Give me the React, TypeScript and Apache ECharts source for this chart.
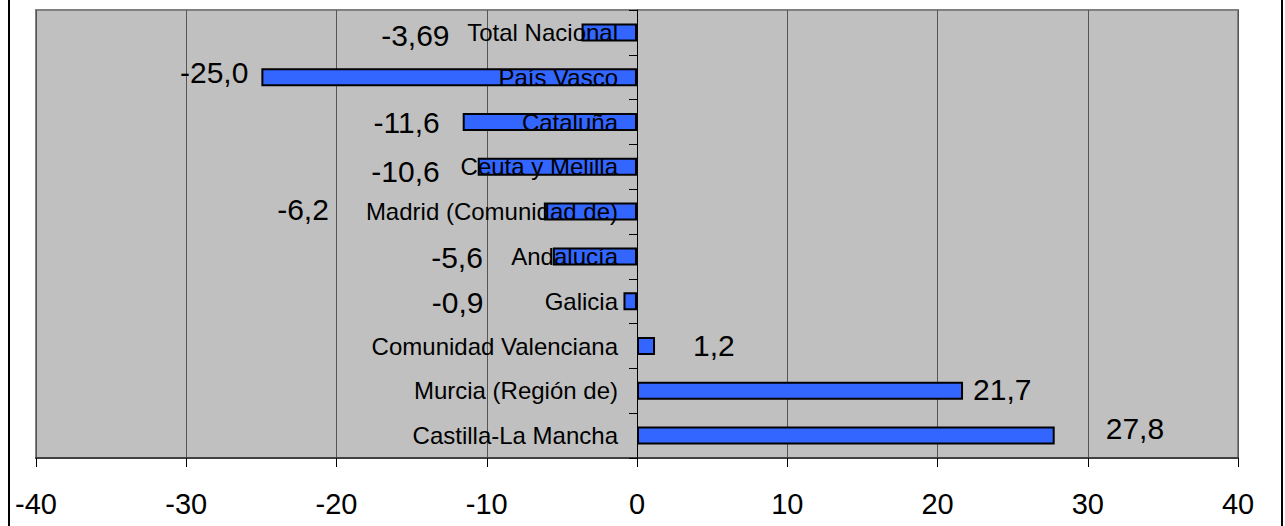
import React, { useEffect, useRef } from "react";
import * as echarts from "echarts";

const categories = [
  "Total Nacional",
  "País Vasco",
  "Cataluña",
  "Ceuta y Melilla",
  "Madrid (Comunidad de)",
  "Andalucía",
  "Galicia",
  "Comunidad Valenciana",
  "Murcia (Región de)",
  "Castilla-La Mancha",
];
const values = [-3.69, -25.0, -11.6, -10.6, -6.2, -5.6, -0.9, 1.2, 21.7, 27.8];
const labelDecimals = [2, 1, 1, 1, 1, 1, 1, 1, 1, 1];
const xTicks = { min: -40, max: 40, interval: 10 };

// hand-placed data label nudges (distance from bar end, vertical shift), as in the original
const labelDistance = [132, 13, 23, 38, 215, 70, 140, 38, 10, 51];
const labelShiftY = [3, -5, 0, 5, -2, 1, 1, -1, -1, -7];

const FONT = "'Liberation Sans', Arial, sans-serif";
const GRID_LEFT = 36;
const GRID_RIGHT = 47;
const CHART_W = 1285;

function fmt(v: number, d: number) {
  return v.toFixed(d).replace(".", ",");
}

export default function App() {
  const ref = useRef<HTMLDivElement>(null);
  useEffect(() => {
    if (!ref.current) return;
    const chart = echarts.init(ref.current, undefined, { renderer: "svg" });
    const data = values.map((v, i) => ({
      value: v,
      label: {
        show: true,
        position: v < 0 ? "left" : "right",
        distance: labelDistance[i],
        offset: [0, labelShiftY[i]],
        formatter: fmt(v, labelDecimals[i]),
      },
    }));
    const plotW = CHART_W - GRID_LEFT - GRID_RIGHT;
    const zeroShift = (plotW * (0 - xTicks.min)) / (xTicks.max - xTicks.min);
    chart.setOption({
      animation: false,
      grid: {
        left: GRID_LEFT,
        right: GRID_RIGHT,
        top: 10,
        bottom: 68,
        containLabel: false,
        outerBoundsMode: "none",
        show: true,
        backgroundColor: "#C0C0C0",
        borderColor: "#808080",
        borderWidth: 2,
      },
      xAxis: {
        type: "value",
        min: xTicks.min,
        max: xTicks.max,
        interval: xTicks.interval,
        position: "bottom",
        axisLine: { show: true, onZero: false, lineStyle: { color: "#404040", width: 2 } },
        axisTick: { show: true, length: 9, lineStyle: { color: "#000", width: 1 } },
        axisLabel: { fontSize: 29, color: "#000", margin: 31, fontFamily: FONT },
        splitLine: { show: true, lineStyle: { color: "#555", width: 1 } },
      },
      yAxis: {
        type: "category",
        inverse: true,
        data: categories,
        position: "left",
        offset: -zeroShift,
        z: 10,
        axisLine: { show: true, onZero: false, lineStyle: { color: "#000", width: 1 } },
        axisTick: { show: true, length: 8, lineStyle: { color: "#000", width: 1 } },
        axisLabel: { fontSize: 24, color: "#000", margin: 19, fontFamily: FONT },
        splitLine: { show: false },
      },
      series: [
        {
          type: "bar",
          data,
          barWidth: 18,
          itemStyle: { color: "#3366FF", borderColor: "#000", borderWidth: 2 },
          label: { fontSize: 30, color: "#000", fontFamily: FONT },
        },
      ],
      graphic: [
        { type: "line", shape: { x1: 9, y1: 0, x2: 9, y2: 526 }, style: { stroke: "#000", lineWidth: 2 } },
        { type: "line", shape: { x1: 1282, y1: 0, x2: 1282, y2: 526 }, style: { stroke: "#000", lineWidth: 2 } },
      ],
    });
    return () => chart.dispose();
  }, []);
  return (
    <div
      ref={ref}
      style={{ position: "fixed", left: 0, top: 0, width: 1285, height: 526, background: "#fff" }}
    />
  );
}
